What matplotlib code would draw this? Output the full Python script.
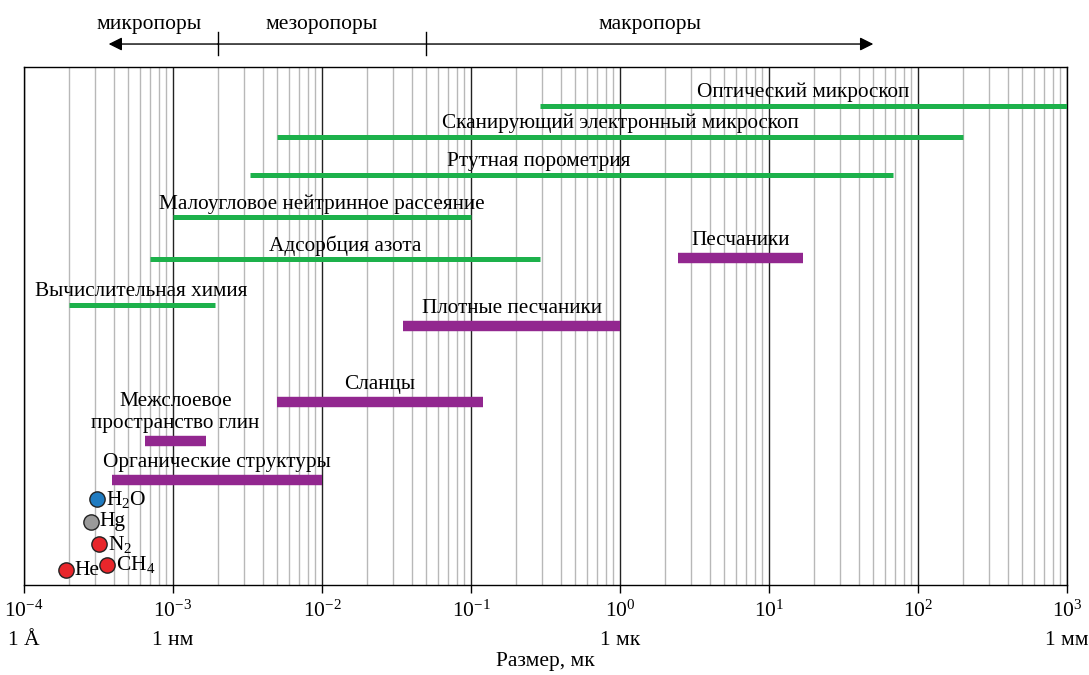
import numpy as np
import matplotlib
matplotlib.use('Agg')
import matplotlib.pyplot as plt
from matplotlib.ticker import LogLocator, NullFormatter
from matplotlib import transforms

plt.rcParams['font.family'] = ['Liberation Serif', 'DejaVu Serif']
plt.rcParams['mathtext.fontset'] = 'custom'
plt.rcParams['mathtext.rm'] = 'Liberation Serif'
plt.rcParams['mathtext.it'] = 'Liberation Serif:italic'

# методы измерения (зелёные) - размер в мк
methods = ['Оптический микроскоп', 'Сканирующий электронный микроскоп', 'Ртутная порометрия',
           'Малоугловое нейтринное рассеяние', 'Адсорбция азота', 'Вычислительная химия']
methods_lo = [0.29, 0.005, 0.0033, 0.001, 0.0007, 0.0002]
methods_hi = [1000, 200, 68, 0.1, 0.29, 0.0019]
methods_y = [92.5, 86.5, 79.2, 71.0, 62.9, 54.1]

# породы / структуры (фиолетовые)
rocks = ['Песчаники', 'Плотные песчаники', 'Сланцы', 'Межслоевое\nпространство глин',
         'Органические структуры']
rocks_lo = [2.45, 0.035, 0.005, 0.00065, 0.00039]
rocks_hi = [17, 1.0, 0.12, 0.00166, 0.01]
rocks_y = [63.1, 50.0, 35.3, 27.8, 20.3]

# молекулы
molecules = ['H$_2$O', 'Hg', 'N$_2$', 'He', 'CH$_4$']
mol_size = [3.1e-4, 2.8e-4, 3.2e-4, 1.9e-4, 3.6e-4]
mol_y = [16.6, 12.2, 7.9, 2.9, 3.9]
mol_colors = ['#1f7bc1', '#9a9a9a', '#e8262b', '#e8262b', '#e8262b']

# классы пор
pore_names = ['микропоры', 'мезоропоры', 'макропоры']
pore_bounds = [0.002, 0.05]
pore_arrow_ends = [3.7e-4, 50]

tick_vals = [1e-4, 1e-3, 1e-2, 1e-1, 1e0, 1e1, 1e2, 1e3]
unit_vals = [1e-4, 1e-3, 1e0, 1e3]
unit_labels = ['1 Å', '1 нм', '1 мк', '1 мм']

green = '#1db14b'
purple = '#92278f'
fs = 15.3


def label_above(ax, x, y, text, dy, dx=0):
    ax.annotate(text, (x, y), xytext=(dx, dy), textcoords='offset points',
                ha='center', va='bottom', fontsize=fs, linespacing=1.2)


def main():
    fig = plt.figure(figsize=(10.89, 6.75), dpi=100)
    ax = fig.add_axes([0.022, 0.1333, 0.958, 0.7674])
    ax.set_xscale('log')
    ax.set_xlim(1e-4, 1e3)
    ax.set_ylim(0, 100)

    ax.xaxis.set_major_locator(LogLocator(base=10, numticks=20))
    ax.xaxis.set_minor_locator(LogLocator(base=10, subs=np.arange(2, 10), numticks=100))
    ax.xaxis.set_minor_formatter(NullFormatter())
    ax.grid(which='minor', axis='x', color='#b8b8b8', lw=1.0)
    ax.grid(which='major', axis='x', color='#222222', lw=1.0)
    ax.set_axisbelow(True)
    ax.set_yticks([])
    ax.tick_params(axis='x', which='major', length=6, width=1, direction='out', pad=5)
    ax.tick_params(axis='x', which='minor', length=0)
    ax.set_xticks(tick_vals)
    ax.set_xticklabels(['10$^{%d}$' % int(np.log10(v)) for v in tick_vals], fontsize=15.5)
    for s in ax.spines.values():
        s.set_linewidth(1.0)

    # полосы методов
    for name, lo, hi, y in zip(methods, methods_lo, methods_hi, methods_y):
        ax.plot([lo, hi], [y, y], color=green, lw=3.6, solid_capstyle='butt', zorder=3)
        xc = np.sqrt(lo * hi)
        dx = -24 if name == 'Ртутная порометрия' else 0
        label_above(ax, xc, y, name, 2.5, dx)

    for name, lo, hi, y in zip(rocks, rocks_lo, rocks_hi, rocks_y):
        ax.plot([lo, hi], [y, y], color=purple, lw=7.5, solid_capstyle='butt', zorder=3)
        label_above(ax, np.sqrt(lo * hi), y, name, 6)

    for name, x, y, c in zip(molecules, mol_size, mol_y, mol_colors):
        ax.plot(x, y, 'o', ms=11, mfc=c, mec='#222222', mew=1.0, zorder=4, clip_on=False)
        ax.annotate(name, (x, y), xytext=(6.5, 0), textcoords='offset points',
                    ha='left', va='center', fontsize=15.5)

    # подписи единиц под осью
    for v, t in zip(unit_vals, unit_labels):
        ax.annotate(t, (v, 0), xycoords=('data', 'axes fraction'), xytext=(0, -40),
                    textcoords='offset points', ha='center', va='center', fontsize=15.5,
                    annotation_clip=False)
    ax.text(0.5, -0.147, 'Размер, мк', transform=ax.transAxes, ha='center', va='center',
            fontsize=15.5)

    # стрелки классов пор
    tr = transforms.blended_transform_factory(ax.transData, ax.transAxes)
    ya = 1.0444
    for end in pore_arrow_ends:
        ax.annotate('', xy=(end, ya), xytext=(pore_bounds[0], ya),
                    xycoords=tr, arrowprops=dict(arrowstyle='-|>', color='black', lw=1.0,
                                                 mutation_scale=20, shrinkA=0, shrinkB=0),
                    annotation_clip=False)
    for b in pore_bounds:
        ax.plot([b, b], [1.023, 1.068], transform=tr, color='black', lw=1.0, clip_on=False)
    label_x = [np.sqrt(pore_arrow_ends[0] * pore_bounds[0]) * 0.8,
               np.sqrt(pore_bounds[0] * pore_bounds[1]),
               np.sqrt(pore_bounds[1] * pore_arrow_ends[1])]
    for name, x in zip(pore_names, label_x):
        ax.text(x, 1.083, name, transform=tr, ha='center', va='center', fontsize=15.5)

    fig.savefig('out.png', dpi=100)


if __name__ == '__main__':
    main()
